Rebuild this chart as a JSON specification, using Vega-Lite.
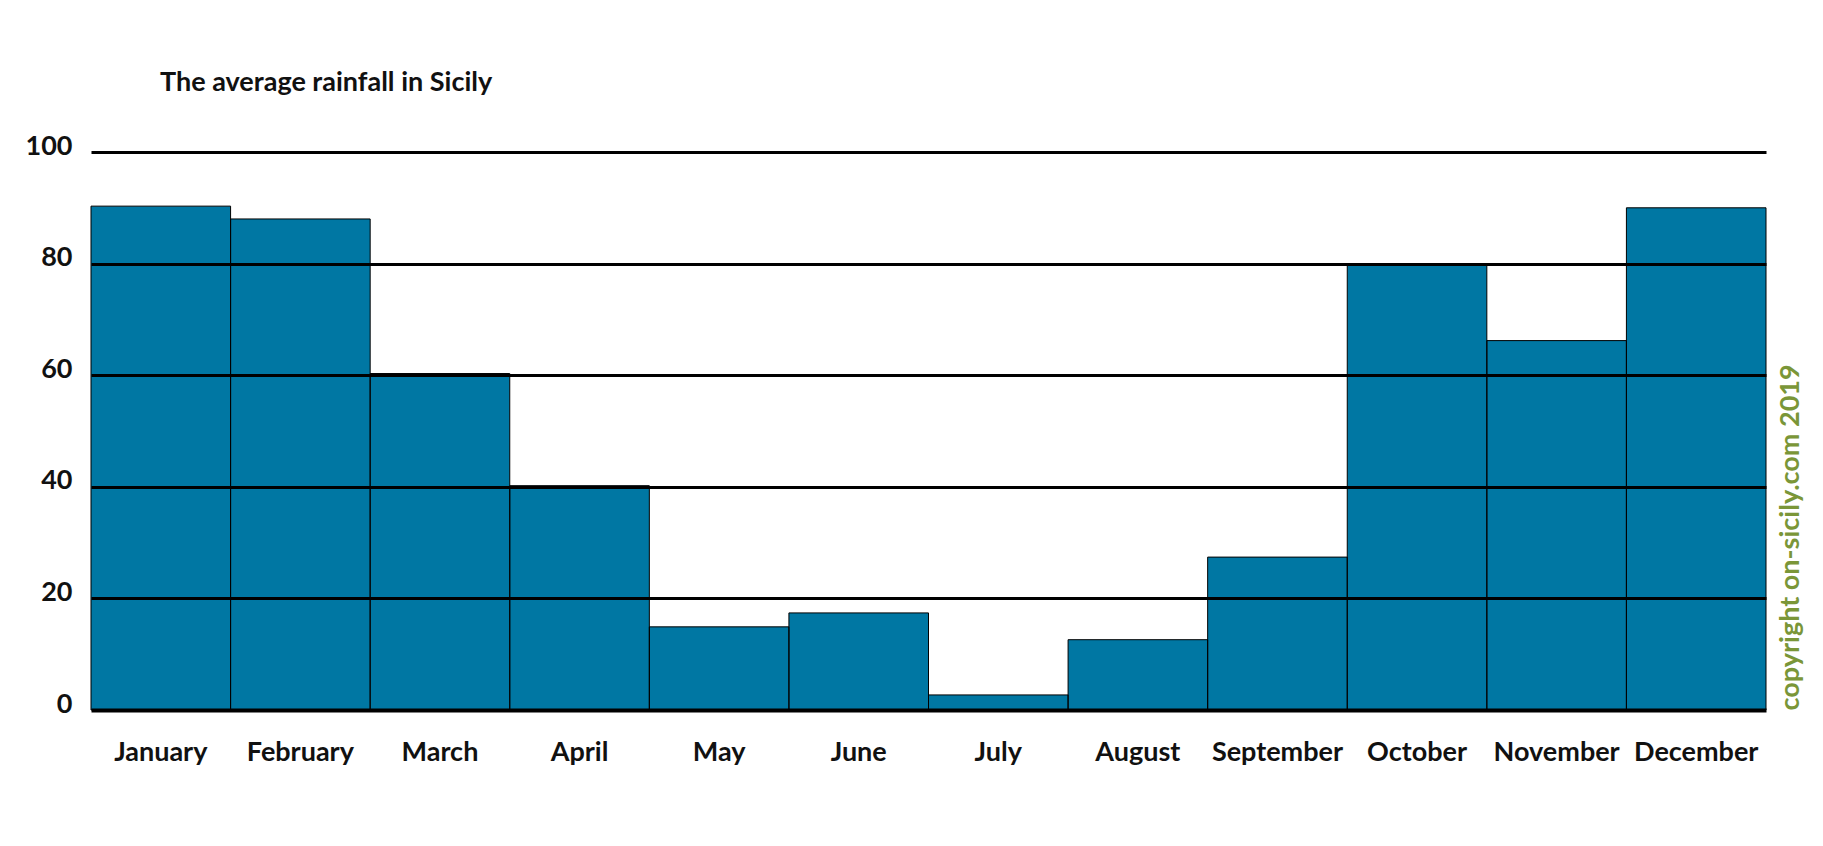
{
  "$schema": "https://vega.github.io/schema/vega-lite/v6.json",
  "autosize": "none",
  "width": 1675,
  "height": 558,
  "padding": {"left": 91, "top": 152, "right": 57, "bottom": 136},
  "background": "white",
  "config": {"view": {"stroke": null}, "font": "Lato"},
  "title": {
    "text": "The average rainfall in Sicily",
    "anchor": "start",
    "frame": "group",
    "dx": 69,
    "offset": 35,
    "font": "Lato",
    "fontSize": 27,
    "fontWeight": "bold",
    "color": "#111111"
  },
  "data": {
    "values": [
      {"month": "January", "rain": 90.3},
      {"month": "February", "rain": 88},
      {"month": "March", "rain": 60.3},
      {"month": "April", "rain": 40.2},
      {"month": "May", "rain": 14.9},
      {"month": "June", "rain": 17.4},
      {"month": "July", "rain": 2.7},
      {"month": "August", "rain": 12.6},
      {"month": "September", "rain": 27.4},
      {"month": "October", "rain": 80},
      {"month": "November", "rain": 66.2},
      {"month": "December", "rain": 90}
    ]
  },
  "encoding": {
    "x": {
      "field": "month",
      "type": "nominal",
      "sort": null,
      "scale": {"paddingInner": 0, "paddingOuter": 0},
      "axis": {
        "title": null,
        "domain": false,
        "ticks": false,
        "labelAngle": 0,
        "labelFont": "Lato",
        "labelFontSize": 27,
        "labelFontWeight": "bold",
        "labelColor": "#111111",
        "labelBaseline": "middle",
        "labelPadding": 42
      }
    }
  },
  "layer": [
    {
      "mark": {"type": "bar", "color": "#0077A3"},
      "encoding": {
        "y": {
          "field": "rain",
          "type": "quantitative",
          "scale": {"domain": [0, 100], "nice": false},
          "axis": {
            "title": null,
            "values": [0, 20, 40, 60, 80, 100],
            "domain": false,
            "ticks": false,
            "grid": true,
            "gridColor": "#000000",
            "gridOpacity": 1,
            "gridWidth": {"condition": {"test": "datum.value === 0", "value": 4}, "value": 3},
            "zindex": 1,
            "labelFont": "Lato",
            "labelFontSize": 27,
            "labelFontWeight": "bold",
            "labelColor": "#111111",
            "labelBaseline": "alphabetic",
            "labelOffset": 2,
            "labelPadding": 19
          }
        }
      }
    },
    {
      "mark": {"type": "bar", "fillOpacity": 0, "stroke": "#000000", "strokeWidth": 1},
      "encoding": {
        "y": {
          "field": "rain",
          "type": "quantitative",
          "axis": {
            "orient": "right",
            "title": "copyright on-sicily.com 2019",
            "titleAngle": 270,
            "titleAnchor": "start",
            "titleAlign": "left",
            "titleBaseline": "middle",
            "titleColor": "#7A9638",
            "titleFont": "Lato",
            "titleFontSize": 27,
            "titleFontWeight": "bold",
            "titlePadding": 24,
            "labels": false,
            "ticks": false,
            "domain": false,
            "grid": false
          }
        }
      }
    }
  ],
  "resolve": {"axis": {"y": "independent"}}
}
